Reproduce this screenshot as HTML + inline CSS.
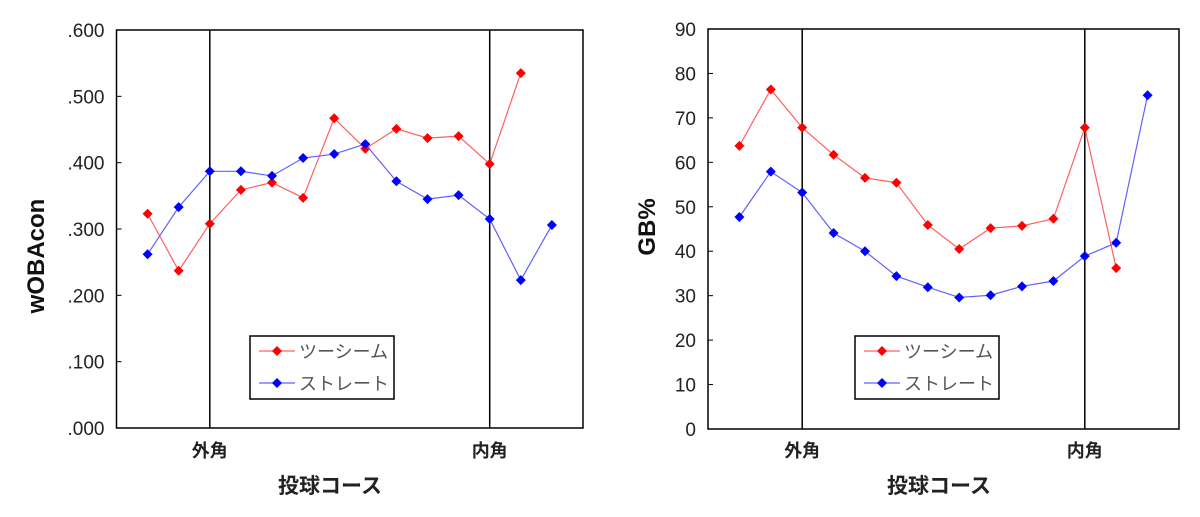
<!DOCTYPE html>
<html><head><meta charset="utf-8"><style>
body{margin:0;background:#fff;width:1200px;height:512px;overflow:hidden}
svg text{font-family:"Liberation Sans","Noto Sans CJK JP",sans-serif}
</style></head><body>
<svg id="s" width="1200" height="512" xmlns="http://www.w3.org/2000/svg"></svg>
<script>
const categories=[1,2,3,4,5,6,7,8,9,10,11,12,13,14];
const markers=[3,12];
const markerLabels=["外角","内角"];
const woba2Seam=[.323,.237,.308,.359,.370,.347,.467,.421,.451,.437,.440,.398,.535];
const wobaStraight=[.262,.333,.387,.387,.380,.407,.413,.428,.372,.345,.351,.315,.223,.306];
const gb2Seam=[63.7,76.4,67.8,61.7,56.5,55.4,45.9,40.5,45.2,45.7,47.3,67.8,36.2];
const gbStraight=[47.7,57.9,53.2,44.1,40.0,34.4,31.9,29.6,30.1,32.1,33.3,38.9,41.9,75.1];
const wobaTicks=[".000",".100",".200",".300",".400",".500",".600"];
const gbTicks=["0","10","20","30","40","50","60","70","80","90"];
const seriesNames=["ツーシーム","ストレート"];
const NS="http://www.w3.org/2000/svg";
const svg=document.getElementById('s');
function mk(t,a,p){const e=document.createElementNS(NS,t);for(const k in a)e.setAttribute(k,a[k]);(p||svg).appendChild(e);return e;}
function chart(o){
  const g=mk('g',{});
  
  
  const xs=v=>o.x0+(o.x1-o.x0)*v/15;
  const ys=v=>o.y0-(o.y0-o.y1)*(v-o.min)/(o.max-o.min);
  const fr=mk('rect',{x:o.x0,y:o.y1,width:o.x1-o.x0,height:o.y0-o.y1,fill:'none',stroke:'#000','stroke-width':1.5},g);
  
  
  o.ticks.forEach((t,i)=>{
    const v=o.min+(o.max-o.min)*i/(o.ticks.length-1);
    const y=ys(v);
    const tk=mk('line',{x1:o.x0,x2:o.x0+5,y1:y,y2:y,stroke:'#000'},g);
    
    
    const tx=mk('text',{x:o.x0-12,y:y+7,'text-anchor':'end','font-size':19,fill:'#222'},g);
    tx.textContent=t;
    
    
  });
  markers.forEach((m,i)=>{
    const x=xs(m);
    const l=mk('line',{x1:x,x2:x,y1:o.y1,y2:o.y0,stroke:'#000','stroke-width':1.5},g);
    
    
    const t=mk('text',{x:x,y:457,'text-anchor':'middle','font-size':18,'font-weight':'bold',fill:'#222'},g);
    t.textContent=markerLabels[i];
    
    
  });
  const xt=mk('text',{x:o.xtx,y:493,'text-anchor':'middle','font-size':21,'font-weight':'bold',fill:'#222'},g);
  xt.textContent='投球コース';
  
  
  const yt=mk('text',{x:0,y:0,'text-anchor':'middle','font-size':24,'font-weight':'bold',fill:'#111',transform:`translate(${o.tx},${o.ty}) rotate(-90)`},g);
  yt.textContent=o.title;
  
  
  [[o.a,'#ff0000','#ff6060'],[o.b,'#0000ff','#6060ff']].forEach((s,si)=>{
    const pts=s[0].map((v,i)=>xs(categories[i])+','+ys(v)).join(' ');
    const pl=mk('polyline',{points:pts,fill:'none',stroke:s[2],'stroke-width':1.2},g);
    
    
    s[0].forEach((v,i)=>{
      const x=xs(categories[i]),y=ys(v);
      const p=mk('polygon',{points:`${x},${y-5} ${x+5},${y} ${x},${y+5} ${x-5},${y}`,fill:s[1]},g);
      
      
    });
  });
  const lg=mk('g',{},g);
  
  
  mk('rect',{x:o.lx,y:336,width:144,height:63,fill:'#fff',stroke:'#000','stroke-width':1.5},lg);
  [['#ff6060','#ff0000',351],['#6060ff','#0000ff',383]].forEach((c,i)=>{
    const x=o.lx+9;
    mk('line',{x1:x,x2:x+36,y1:c[2],y2:c[2],stroke:c[0],'stroke-width':1.2},lg);
    mk('polygon',{points:`${x+18},${c[2]-5} ${x+23},${c[2]} ${x+18},${c[2]+5} ${x+13},${c[2]}`,fill:c[1]},lg);
    const t=mk('text',{x:x+40,y:c[2]+7,'font-size':18,fill:'#555'},lg);
    t.textContent=seriesNames[i];
    
    
  });
}
chart({name:'woba-chart',x0:116.5,x1:583,y0:428,y1:30,min:0,max:.6,ticks:wobaTicks,title:'wOBAcon',tx:44,ty:256,xtx:330,a:woba2Seam,b:wobaStraight,lx:250});
chart({name:'gb-chart',x0:708,x1:1179,y0:429,y1:29,min:0,max:90,ticks:gbTicks,title:'GB%',tx:655,ty:227,xtx:939,a:gb2Seam,b:gbStraight,lx:855});
</script>
</body></html>
